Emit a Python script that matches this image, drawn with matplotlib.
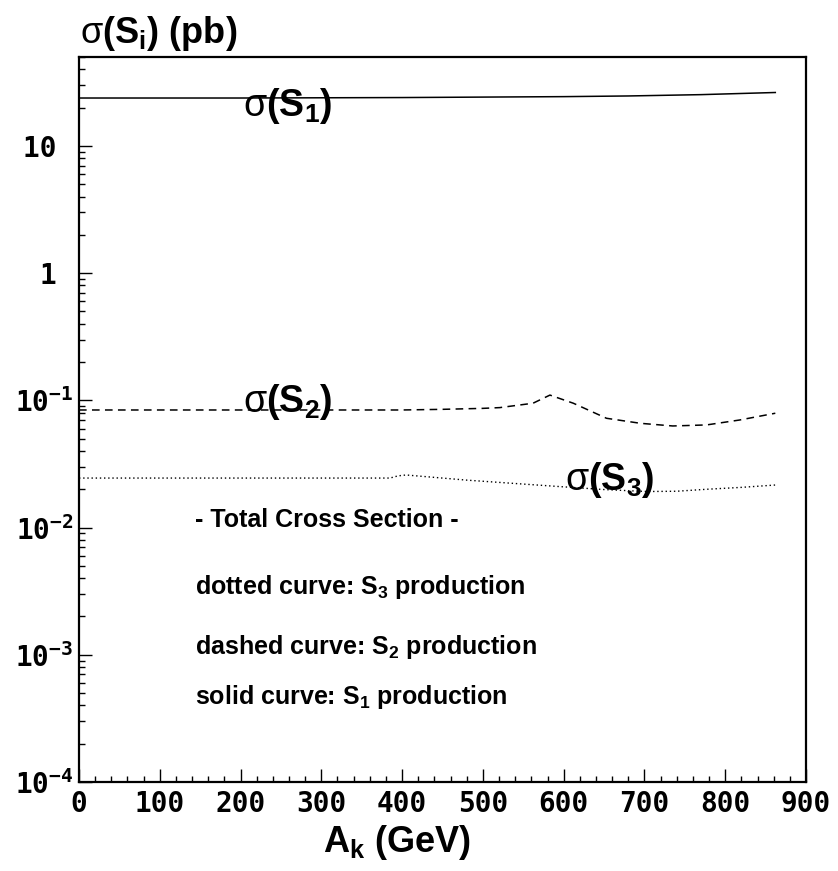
import matplotlib.pyplot as plt
from matplotlib.ticker import MultipleLocator, LogLocator, NullFormatter, FixedLocator, FixedFormatter

plt.rcParams['mathtext.fontset'] = 'custom'
plt.rcParams['mathtext.rm'] = 'Liberation Sans:bold'
plt.rcParams['mathtext.bf'] = 'Liberation Sans:bold'
plt.rcParams['mathtext.it'] = 'Liberation Sans'
plt.rcParams['mathtext.tt'] = 'DejaVu Sans Mono:bold'

# A_k (GeV) sample points and cross sections (pb)
a_s1 = [0, 100, 200, 300, 400, 500, 600, 680, 770, 862]
sig_s1 = [23.8, 23.8, 23.8, 23.9, 24.0, 24.2, 24.4, 24.7, 25.3, 26.3]

a_s2 = [0, 100, 200, 300, 400, 450, 500, 521, 562, 583, 612, 653, 695, 735, 777, 818, 862]
sig_s2 = [0.084, 0.084, 0.084, 0.084, 0.084, 0.085, 0.0865, 0.0877, 0.0949, 0.110,
          0.0949, 0.0723, 0.0660, 0.0629, 0.0641, 0.0701, 0.0792]

a_s3 = [0, 100, 200, 300, 385, 395, 405, 480, 540, 595, 650, 703, 740, 777, 820, 862]
sig_s3 = [0.0245, 0.0245, 0.0245, 0.0245, 0.0245, 0.0255, 0.0259, 0.0236, 0.0222,
          0.0210, 0.0199, 0.0192, 0.0193, 0.0200, 0.0207, 0.0216]

y_ticks = [1e-4, 1e-3, 1e-2, 1e-1, 1, 10]
y_labels = [r"$\mathtt{10^{-4}}$", r"$\mathtt{10^{-3}}$", r"$\mathtt{10^{-2}}$",
            r"$\mathtt{10^{-1}}$", "1 ", "10 "]

notes = ["- Total Cross Section -",
         r"dotted curve: $\mathrm{S_{3}}$ production",
         r"dashed curve: $\mathrm{S_{2}}$ production",
         r"solid curve: $\mathrm{S_{1}}$ production"]

fig = plt.figure(figsize=(8.38, 8.71), dpi=100)
ax = fig.add_axes([79/838, 1 - 782/871, 727/838, 725/871])

ax.plot(a_s1, sig_s1, color='black', lw=1.1, ls='-')
ax.plot(a_s2, sig_s2, color='black', lw=1.1, ls=(0, (5, 3.5)))
ax.plot(a_s3, sig_s3, color='black', lw=1.0, ls=(0, (1, 2)))

ax.set_yscale('log')
ax.set_xlim(0, 900)
ax.set_ylim(1e-4, 50)

ax.xaxis.set_major_locator(MultipleLocator(100))
ax.xaxis.set_minor_locator(MultipleLocator(20))
ax.yaxis.set_major_locator(FixedLocator(y_ticks))
ax.yaxis.set_major_formatter(FixedFormatter(y_labels))
ax.yaxis.set_minor_locator(LogLocator(base=10, subs=range(2, 10), numticks=20))
ax.yaxis.set_minor_formatter(NullFormatter())

for lab in ax.get_xticklabels():
    lab.set_family('DejaVu Sans Mono')
    lab.set_weight('bold')
for lab in ax.get_yticklabels():
    lab.set_family('DejaVu Sans Mono')
    lab.set_weight('bold')

ax.tick_params(which='both', direction='in', top=False, right=False, labelsize=20, width=1.0)
ax.tick_params(which='major', length=9.5)
ax.tick_params(which='minor', length=4.5)
ax.tick_params(axis='x', pad=6)
ax.tick_params(axis='y', pad=4)
for s in ax.spines.values():
    s.set_linewidth(1.6)

# curve labels
ax.text(203, 20.6, r"$\sigma\mathrm{(S_{1})}$", fontsize=27, ha='left', va='center')
ax.text(203, 0.097, r"$\sigma\mathrm{(S_{2})}$", fontsize=27, ha='left', va='center')
ax.text(602, 0.0237, r"$\sigma\mathrm{(S_{3})}$", fontsize=27, ha='left', va='center')

# text block
for txt, ypix in zip(notes, [520, 587, 647, 697]):
    ax.text((195 - 79) / 727, (782 - ypix) / 725, txt, transform=ax.transAxes,
            fontsize=18, family='Liberation Sans', weight='bold', ha='left', va='center')

fig.text(80/838, 1 - 43/871, r"$\sigma\mathrm{(S_{i})\ (pb)}$", fontsize=26,
         ha='left', va='baseline')
fig.text(397/838, 1 - 852/871, r"$\mathrm{A_{k}\ (GeV)}$", fontsize=26,
         ha='center', va='baseline')

fig.savefig('out.png', dpi=100)
